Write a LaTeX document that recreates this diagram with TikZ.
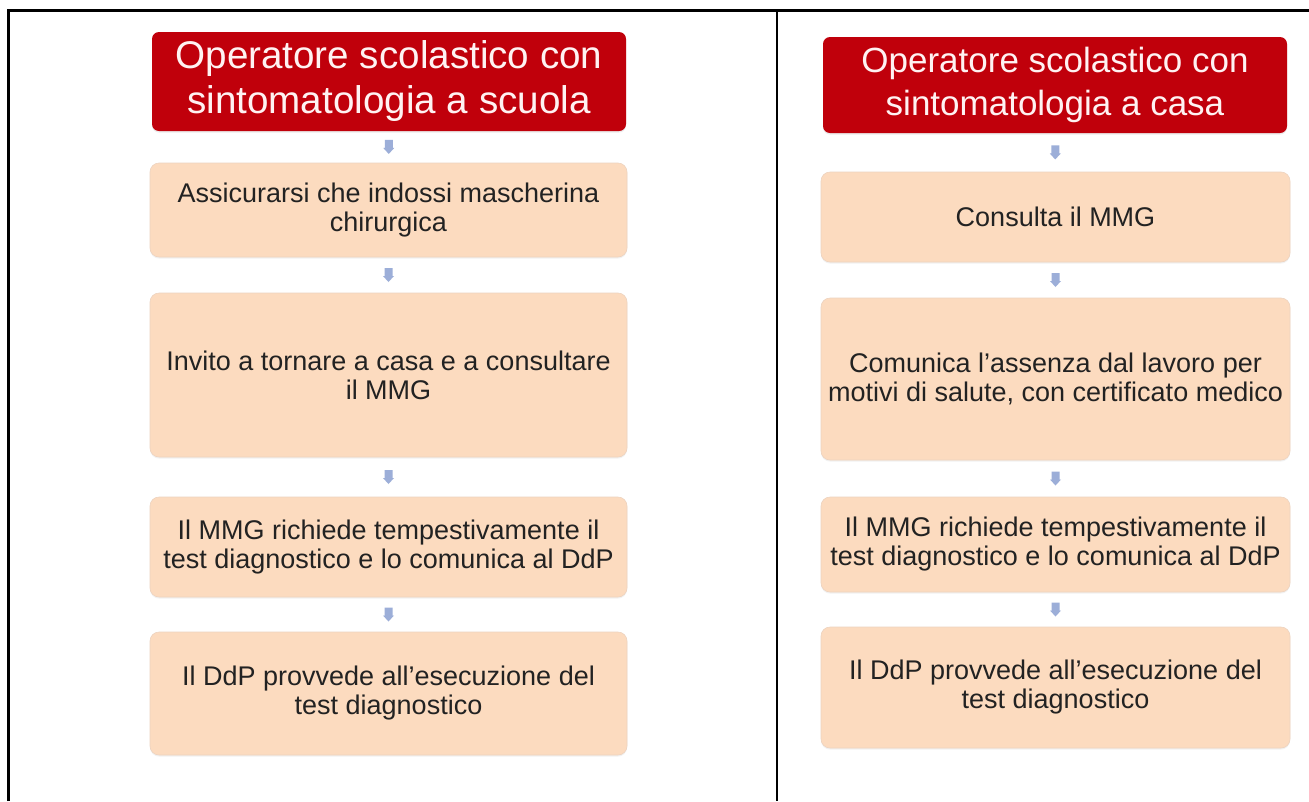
\documentclass[tikz,border=0pt]{standalone}
\usepackage{fontspec}
\setmainfont{Liberation Sans}
\usetikzlibrary{shadows}
\definecolor{hdrred}{HTML}{C0000B}
\definecolor{hdrtxt}{HTML}{FFF2F2}
\definecolor{peach}{HTML}{FCDBBF}
\definecolor{peachedge}{HTML}{EDD3BF}
\definecolor{arrowblue}{HTML}{9CAED8}
\definecolor{bodytxt}{HTML}{222222}
\tikzset{
  hdrbox/.style={rectangle, rounded corners=7pt, fill=hdrred, text=hdrtxt, align=center, inner sep=0pt,
    drop shadow={shadow xshift=0pt, shadow yshift=-1.5pt, fill=black!15}},
  stepbox/.style={rectangle, rounded corners=9pt, fill=peach, draw=peachedge, line width=0.6pt, text=bodytxt, align=center, inner sep=0pt,
    font=\fontsize{27}{29}\selectfont,
    drop shadow={shadow xshift=0pt, shadow yshift=-1.5pt, fill=black!10}},
  downarrow/.pic={\fill[arrowblue] (-4,-7) -- (4,-7) -- (4,1) -- (5.5,1) -- (0,7) -- (-5.5,1) -- (-4,1) -- cycle;},
  frameline/.style={line width=2.2pt, black}
}
\begin{document}
\begin{tikzpicture}[x=1pt,y=-1pt]
\useasboundingbox (0,0) rectangle (1309,801);
\fill[white] (0,0) rectangle (1309,801);
% frame
\coordinate (tl) at (8.5,10.5);
\coordinate (tr) at (1309,10.5);
\coordinate (bl) at (8.5,801);
\coordinate (dt) at (777,10.5);
\coordinate (db) at (777,801);
\draw[frameline] (bl) -- (tl) -- (tr);
\draw[frameline] (dt) -- (db);
% left column
\node[hdrbox, minimum width=474pt, minimum height=99pt, font=\fontsize{38.6}{45}\selectfont] (L0) at (389,81.5)
  {Operatore scolastico con\\sintomatologia a scuola};
\node[stepbox, minimum width=477pt, minimum height=94pt] (L1) at (388.5,210)
  {Assicurarsi che indossi mascherina\\chirurgica};
\node[stepbox, minimum width=477pt, minimum height=164pt] (L2) at (388.5,375)
  {Invito a tornare a casa e a consultare\\il MMG};
\node[stepbox, minimum width=477pt, minimum height=100pt] (L3) at (388.5,547)
  {Il MMG richiede tempestivamente il\\test diagnostico e lo comunica al DdP};
\node[stepbox, minimum width=477pt, minimum height=123pt] (L4) at (388.5,693.5)
  {Il DdP provvede all’esecuzione del\\test diagnostico};
\path (L0.south) -- (L1.north) coordinate[midway] (la1);
\path (L1.south) -- (L2.north) coordinate[midway] (la2);
\path (L2.south) -- (L3.north) coordinate[midway] (la3);
\path (L3.south) -- (L4.north) coordinate[midway] (la4);
\foreach \a in {la1,la2,la3,la4} \pic at (\a) {downarrow};
% right column
\node[hdrbox, minimum width=464pt, minimum height=96pt, font=\fontsize{35}{43}\selectfont] (R0) at (1055,85)
  {Operatore scolastico con\\sintomatologia a casa};
\node[stepbox, minimum width=469pt, minimum height=90pt] (R1) at (1055.5,217)
  {Consulta il MMG};
\node[stepbox, minimum width=469pt, minimum height=162pt] (R2) at (1055.5,379)
  {Comunica l’assenza dal lavoro per\\motivi di salute, con certificato medico};
\node[stepbox, minimum width=469pt, minimum height=95pt] (R3) at (1055.5,544.5)
  {Il MMG richiede tempestivamente il\\test diagnostico e lo comunica al DdP};
\node[stepbox, minimum width=469pt, minimum height=121pt] (R4) at (1055.5,687.5)
  {Il DdP provvede all’esecuzione del\\test diagnostico};
\path (R0.south) -- (R1.north) coordinate[midway] (ra1);
\path (R1.south) -- (R2.north) coordinate[midway] (ra2);
\path (R2.south) -- (R3.north) coordinate[midway] (ra3);
\path (R3.south) -- (R4.north) coordinate[midway] (ra4);
\foreach \a in {ra1,ra2,ra3,ra4} \pic at (\a) {downarrow};
\end{tikzpicture}
\end{document}
